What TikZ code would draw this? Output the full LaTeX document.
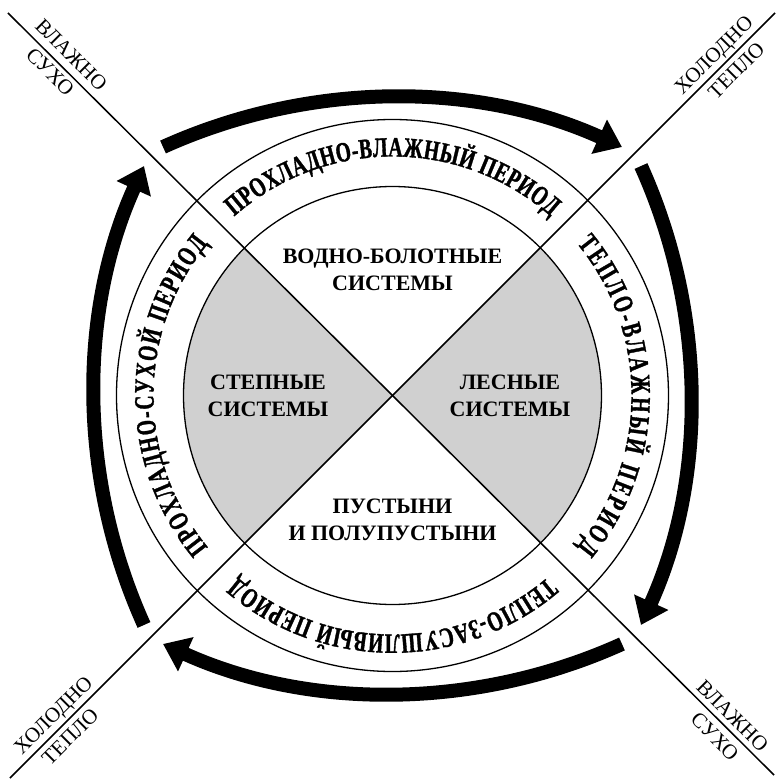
\documentclass[tikz,border=0pt]{standalone}
\usepackage{fontspec}
\setmainfont{Liberation Serif}
\newfontfamily\arcfont[UprightFont={* Bold},FakeStretch=0.70,FakeBold=1.2]{Liberation Serif}
\usetikzlibrary{arrows.meta,decorations.text}
\definecolor{sectorgray}{RGB}{208,208,208}
\tikzset{
  thinline/.style={line width=1.3pt},
  diagline/.style={line width=1.5pt},
  bigarrow/.style={line width=14pt,-{Triangle[length=25pt,width=36pt]}},
  inlabel/.style={align=center,inner sep=0pt,font=\bfseries\fontsize{22}{27}\selectfont},
  cornerlabel/.style={inner sep=0pt,anchor=base,font=\fontsize{21}{21}\selectfont},
}
\newcommand{\arctext}[3]{%
  \path[decorate,decoration={text along path,text align={fit to path},
    text={|\arcfont\fontsize{28}{28}\selectfont|#3}}]
    (#1+#2:239) arc[start angle=#1+#2,end angle=#1-#2,radius=239];}
\begin{document}
\begin{tikzpicture}[x=1pt,y=1pt]
\useasboundingbox (-392.5,-384.5) rectangle (384.5,395.5);
% gray sectors
\fill[sectorgray] (0,0) -- (135:209) arc[start angle=135,end angle=225,radius=209] -- cycle;
\fill[sectorgray] (0,0) -- (-45:209) arc[start angle=-45,end angle=45,radius=209] -- cycle;
% circles
\draw[thinline] (0,0) circle[radius=209];
\draw[thinline] (0,0) circle[radius=276];
% diagonals
\coordinate (TL) at (-384.5,382.5);
\coordinate (BR) at (381.5,-379.5);
\coordinate (TR) at (382.5,382.5);
\coordinate (BL) at (-382.5,-382.5);
\draw[diagline] (TL) -- (BR);
\draw[diagline] (TR) -- (BL);
% inner labels
\node[inlabel] (wet) at (0,125.5) {ВОДНО-БОЛОТНЫЕ\\СИСТЕМЫ};
\node[inlabel] (steppe) at (-124.5,0) {СТЕПНЫЕ\\СИСТЕМЫ};
\node[inlabel] (forest) at (117.5,0) {ЛЕСНЫЕ\\СИСТЕМЫ};
\node[inlabel] (desert) at (0,-124.5) {ПУСТЫНИ\\И ПОЛУПУСТЫНИ};
% arc texts
\arctext{90}{41.5}{ПРОХЛАДНО-ВЛАЖНЫЙ ПЕРИОД}
\arctext{0}{39.5}{ТЕПЛО-ВЛАЖНЫЙ ПЕРИОД}
\arctext{-90}{40.5}{ТЕПЛО-ЗАСУШЛИВЫЙ ПЕРИОД}
\arctext{180}{39.5}{ПРОХЛАДНО-СУХОЙ ПЕРИОД}
% corner labels
\node[cornerlabel,rotate=-45] (tlwet) at (-326.0,335.9) {ВЛАЖНО};
\node[cornerlabel,rotate=-45] (tldry) at (-347.2,318.9) {СУХО};
\node[cornerlabel,rotate=-45] (brwet) at (335.2,-325.3) {ВЛАЖНО};
\node[cornerlabel,rotate=-45] (brdry) at (317.5,-345.8) {СУХО};
\node[cornerlabel,rotate=45] (trcold) at (326.0,335.9) {ХОЛОДНО};
\node[cornerlabel,rotate=45] (trwarm) at (348.6,320.3) {ТЕПЛО};
\node[cornerlabel,rotate=45] (blcold) at (-334.5,-324.6) {ХОЛОДНО};
\node[cornerlabel,rotate=45] (blwarm) at (-317.5,-345.8) {ТЕПЛО};
% arrows
\foreach \a in {0,90,180,270}{
  \begin{scope}[rotate=-\a]
    \draw[bigarrow] ([shift={(0,-258.8)}]114.34:556.8) arc[start angle=114.34,end angle=65.66,radius=556.8];
  \end{scope}
}
\end{tikzpicture}
\end{document}
